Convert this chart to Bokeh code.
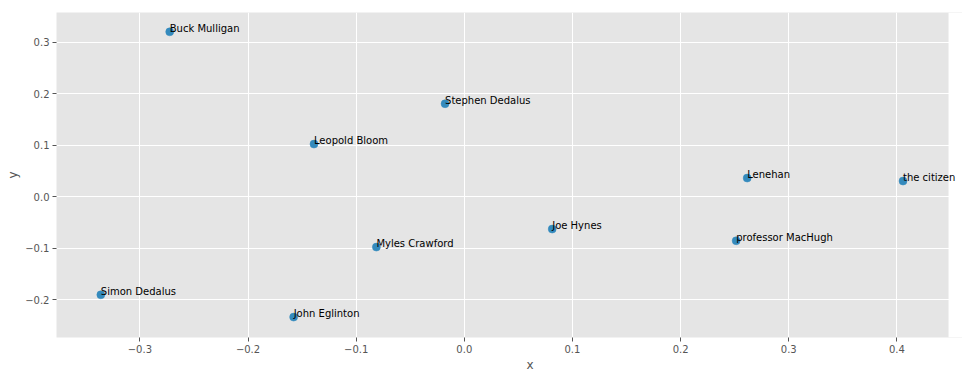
from bokeh.plotting import figure
from bokeh.models import (ColumnDataSource, FixedTicker, CustomJSTickFormatter, Range1d,
                          LabelSet, BoxAnnotation, Title)
from bokeh.core.properties import value
from bokeh.embed import file_html
from bokeh.resources import INLINE

names = ["Buck Mulligan", "Stephen Dedalus", "Leopold Bloom", "Lenehan", "the citizen",
         "Joe Hynes", "professor MacHugh", "Myles Crawford", "Simon Dedalus", "John Eglinton"]
xs = [-0.2724, -0.0178, -0.1390, 0.2616, 0.4057, 0.0813, 0.2514, -0.0813, -0.3361, -0.1578]
ys = [0.3202, 0.1806, 0.1023, 0.0363, 0.0305, -0.0627, -0.0854, -0.0977, -0.1903, -0.2336]
x_ticks = [-0.3, -0.2, -0.1, 0.0, 0.1, 0.2, 0.3, 0.4]
y_ticks = [-0.2, -0.1, 0.0, 0.1, 0.2, 0.3]

x_lo, x_hi = -0.3771, 0.4478      # visible axes limits
x_hi_canvas = 0.4607              # extends drawing area to the page edge so labels are not cut

src = ColumnDataSource(dict(x=xs, y=ys, name=names))

p = figure(width=962, height=378, output_backend="svg", toolbar_location=None,
           x_range=Range1d(x_lo, x_hi_canvas), y_range=Range1d(-0.2732, 0.3577),
           min_border_left=56, min_border_right=0, min_border_top=12, min_border_bottom=41)
p.background_fill_color = "#E5E5E5"
p.border_fill_color = "white"
p.outline_line_color = None

# white mask beyond the axes' right limit
p.add_layout(BoxAnnotation(left=x_hi, fill_color="white", fill_alpha=1.0, line_color=None,
                           level="annotation"))

p.scatter("x", "y", source=src, size=8, fill_color="#348ABD", line_color="#348ABD", line_width=0.5)
labels = LabelSet(x="x", y="y", text="name", source=src, text_font=value("DejaVu Sans"),
                  text_font_size=value("10px"), text_color=value("black"),
                  text_baseline="alphabetic", text_align="left", level="overlay")
p.add_layout(labels)

fmt = CustomJSTickFormatter(code="return tick.toFixed(1).replace('-', '\u2212');")
for ax, ticks in ((p.xaxis, x_ticks), (p.yaxis, y_ticks)):
    ax.ticker = FixedTicker(ticks=ticks)
    ax.formatter = fmt
    ax.axis_label_text_font = "DejaVu Sans"
    ax.axis_label_text_font_size = "12px"
    ax.axis_label_text_font_style = "normal"
    ax.axis_label_text_color = "#555555"
    ax.axis_label_standoff = 2
    ax.major_label_text_font = "DejaVu Sans"
    ax.major_label_text_font_size = "10px"
    ax.major_label_text_color = "#555555"
    ax.major_label_standoff = 3
    ax.axis_line_color = None
    ax.major_tick_line_color = "#555555"
    ax.major_tick_out = 4
    ax.major_tick_in = 0
    ax.minor_tick_line_color = None
p.yaxis.axis_label = "y"

# x-axis label, centred under the visible axes (not the extended canvas)
p.add_layout(Title(text="x", align="left", offset=470, standoff=0, text_font="DejaVu Sans",
                   text_font_size="12px", text_font_style="normal", text_color="#555555"),
             "below")

p.grid.grid_line_color = "white"
p.grid.grid_line_width = 1
p.xgrid.ticker = FixedTicker(ticks=x_ticks)
p.ygrid.ticker = FixedTicker(ticks=y_ticks)

open("out.html", "w").write(file_html(p, INLINE))
